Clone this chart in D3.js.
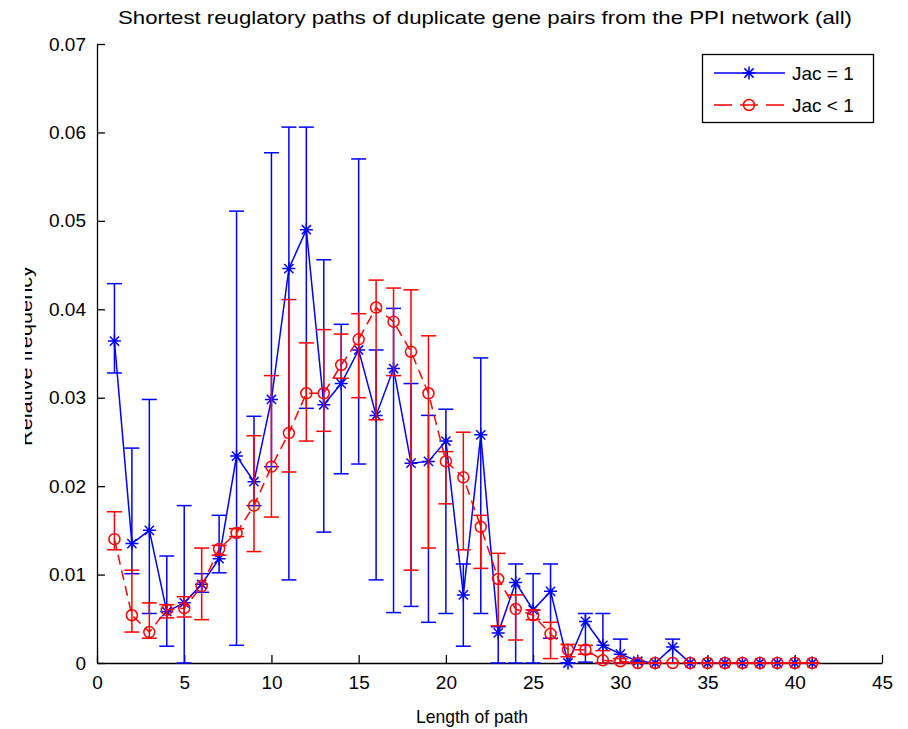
<!DOCTYPE html>
<html>
<head>
<meta charset="utf-8">
<script src="https://cdn.jsdelivr.net/npm/d3@7"></script>
<style>
  body { margin: 0; background: #fff; }
  text { font-family: "Liberation Sans", Arial, sans-serif; }
</style>
</head>
<body>
<svg width="908" height="729"></svg>
<script>
// path length 1..41
var pathLen = d3.range(1, 42);

// Jac = 1 : value, bottom of error bar, top of error bar
var jacOne = [0.0364, 0.0135, 0.0150, 0.0058, 0.0068, 0.0089, 0.0118, 0.0234, 0.0205, 0.0298,
              0.0446, 0.0490, 0.0292, 0.0316, 0.0354, 0.0280, 0.0333, 0.0226, 0.0228, 0.0251,
              0.0077, 0.0258, 0.0034, 0.0091, 0.0060, 0.0081, 0.0000, 0.0047, 0.0020, 0.0010,
              0.0002, 0, 0.0018, 0, 0, 0, 0, 0, 0, 0, 0];
var jacOneLo = [0.0328, 0.0101, 0.0056, 0.0019, 0.0000, 0.0080, 0.0102, 0.0020, 0.0178, 0.0222,
                0.0094, 0.0288, 0.0148, 0.0214, 0.0225, 0.0094, 0.0057, 0.0064, 0.0046, 0.0056,
                0.0019, 0.0056, 0.0000, 0.0000, 0.0000, 0.0028, 0.0000, 0.0001, 0.0000, 0.0000,
                0, 0, 0, 0, 0, 0, 0, 0, 0, 0, 0];
var jacOneHi = [0.0429, 0.0243, 0.0298, 0.0121, 0.0178, 0.0101, 0.0167, 0.0511, 0.0279, 0.0577,
                0.0606, 0.0606, 0.0456, 0.0383, 0.0570, 0.0354, 0.0401, 0.0316, 0.0280, 0.0287,
                0.0112, 0.0345, 0.0041, 0.0112, 0.0101, 0.0112, 0.0000, 0.0056, 0.0056, 0.0027,
                0.0002, 0, 0.0027, 0, 0, 0, 0, 0, 0, 0, 0];

// Jac < 1
var jacLess = [0.0140, 0.0054, 0.0035, 0.0060, 0.0062, 0.0087, 0.0129, 0.0147, 0.0178, 0.0222,
               0.0260, 0.0305, 0.0305, 0.0337, 0.0366, 0.0402, 0.0386, 0.0352, 0.0305, 0.0228,
               0.0210, 0.0154, 0.0095, 0.0061, 0.0054, 0.0033, 0.0015, 0.0015, 0.0003, 0.0002,
               0, 0, 0, 0, 0, 0, 0, 0, 0, 0, 0];
var jacLessLo = [0.0128, 0.0035, 0.0028, 0.0051, 0.0052, 0.0049, 0.0122, 0.0143, 0.0126, 0.0165,
                 0.0216, 0.0251, 0.0262, 0.0322, 0.0300, 0.0275, 0.0325, 0.0105, 0.0130, 0.0180,
                 0.0128, 0.0107, 0.0042, 0.0026, 0.0049, 0.0005, 0.0007, 0.0010, 0.0000, 0.0000,
                 0, 0, 0, 0, 0, 0, 0, 0, 0, 0, 0];
var jacLessHi = [0.0171, 0.0105, 0.0068, 0.0066, 0.0075, 0.0130, 0.0133, 0.0152, 0.0257, 0.0325,
                 0.0411, 0.0362, 0.0377, 0.0372, 0.0395, 0.0433, 0.0424, 0.0422, 0.0370, 0.0239,
                 0.0261, 0.0167, 0.0124, 0.0077, 0.0060, 0.0046, 0.0021, 0.0020, 0.0014, 0.0005,
                 0, 0, 0, 0, 0, 0, 0, 0, 0, 0, 0];

var xTicks = [0, 5, 10, 15, 20, 25, 30, 35, 40, 45];
var yTicks = [0, 0.01, 0.02, 0.03, 0.04, 0.05, 0.06, 0.07];

var svg = d3.select("svg");
var x = d3.scaleLinear().domain([0, 45]).range([97, 882]);
var y = d3.scaleLinear().domain([0, 0.07]).range([663, 44]);

// axes, ticks pointing inward like matlab
var xAxis = svg.append("g").attr("transform", "translate(0,663)")
  .call(d3.axisBottom(x).tickValues(xTicks).tickSize(-8).tickSizeOuter(0).tickPadding(12));
var yAxis = svg.append("g").attr("transform", "translate(97,0)")
  .call(d3.axisLeft(y).tickValues(yTicks).tickSize(-8).tickSizeOuter(0).tickPadding(11)
    .tickFormat(function(d) { return d === 0 ? "0" : d3.format(".2f")(d); }));
svg.selectAll(".tick text").style("font-size", "19px").attr("fill", "#000");
xAxis.selectAll(".tick text").attr("dy", "0.75em");
svg.selectAll(".domain, .tick line").attr("stroke", "#000").attr("stroke-width", 1.3);

function series(vals, lo, hi, color, dash, marker) {
  var g = svg.append("g");
  var pts = pathLen.map(function(p, i) { return { p: p, v: vals[i], lo: lo[i], hi: hi[i] }; });

  // error bars
  var eb = g.selectAll(".eb").data(pts).enter().append("g")
    .attr("stroke", color).attr("stroke-width", 1.5);
  eb.append("line")
    .attr("x1", function(d) { return x(d.p); }).attr("x2", function(d) { return x(d.p); })
    .attr("y1", function(d) { return y(d.lo); }).attr("y2", function(d) { return y(d.hi); });
  eb.append("line")
    .attr("x1", function(d) { return x(d.p) - 7.5; }).attr("x2", function(d) { return x(d.p) + 7.5; })
    .attr("y1", function(d) { return y(d.lo); }).attr("y2", function(d) { return y(d.lo); });
  eb.append("line")
    .attr("x1", function(d) { return x(d.p) - 7.5; }).attr("x2", function(d) { return x(d.p) + 7.5; })
    .attr("y1", function(d) { return y(d.hi); }).attr("y2", function(d) { return y(d.hi); });

  var line = d3.line().x(function(d) { return x(d.p); }).y(function(d) { return y(d.v); });
  g.append("path").datum(pts).attr("d", line)
    .attr("fill", "none").attr("stroke", color).attr("stroke-width", 1.5)
    .attr("stroke-dasharray", dash);

  g.selectAll(".mk").data(pts).enter().append("path")
    .attr("transform", function(d) { return "translate(" + x(d.p) + "," + y(d.v) + ")"; })
    .attr("d", marker).attr("fill", "none").attr("stroke", color).attr("stroke-width", 1.5);
}

var star = "M-6.5,0H6.5M0,-6.5V6.5M-4.6,-4.6L4.6,4.6M-4.6,4.6L4.6,-4.6";
var ring = "M5.5,0A5.5,5.5 0 1,1 -5.5,0A5.5,5.5 0 1,1 5.5,0Z";

series(jacOne, jacOneLo, jacOneHi, "#0000ff", null, star);
series(jacLess, jacLessLo, jacLessHi, "#ff0000", "10,6", ring);

// title and labels
svg.append("text").attr("x", 485).attr("y", 24).attr("text-anchor", "middle")
  .style("font-size", "19px").attr("textLength", 734).attr("lengthAdjust", "spacingAndGlyphs")
  .text("Shortest reuglatory paths of duplicate gene pairs from the PPI network (all)");
svg.append("text").attr("x", 472).attr("y", 723).attr("text-anchor", "middle")
  .style("font-size", "19px").attr("textLength", 112).attr("lengthAdjust", "spacingAndGlyphs")
  .text("Length of path");

// the y label is cut off on its left side in the original
svg.append("clipPath").attr("id", "ylabclip")
  .append("rect").attr("x", 25).attr("y", 0).attr("width", 80).attr("height", 729);
svg.append("g").attr("clip-path", "url(#ylabclip)")
  .append("text").attr("transform", "translate(32,356) rotate(-90)").attr("text-anchor", "middle")
  .style("font-size", "19px").attr("textLength", 180).attr("lengthAdjust", "spacingAndGlyphs")
  .text("Relative frequency");

// legend
var lg = svg.append("g");
lg.append("rect").attr("x", 702.5).attr("y", 54.5).attr("width", 171).attr("height", 68)
  .attr("fill", "#fff").attr("stroke", "#000").attr("stroke-width", 1.3);
var legendItems = [
  { name: "Jac = 1", color: "#0000ff", dash: null, marker: star },
  { name: "Jac < 1", color: "#ff0000", dash: "18,8", marker: ring }
];
legendItems.forEach(function(d, i) {
  var ly = 73 + i * 32;
  lg.append("line").attr("x1", 714).attr("x2", 785).attr("y1", ly).attr("y2", ly)
    .attr("stroke", d.color).attr("stroke-width", 1.5).attr("stroke-dasharray", d.dash);
  lg.append("path").attr("transform", "translate(749," + ly + ")").attr("d", d.marker)
    .attr("fill", "none").attr("stroke", d.color).attr("stroke-width", 1.5);
  lg.append("text").attr("x", 792).attr("y", ly + 7).style("font-size", "19px").text(d.name);
});
</script>
</body>
</html>
